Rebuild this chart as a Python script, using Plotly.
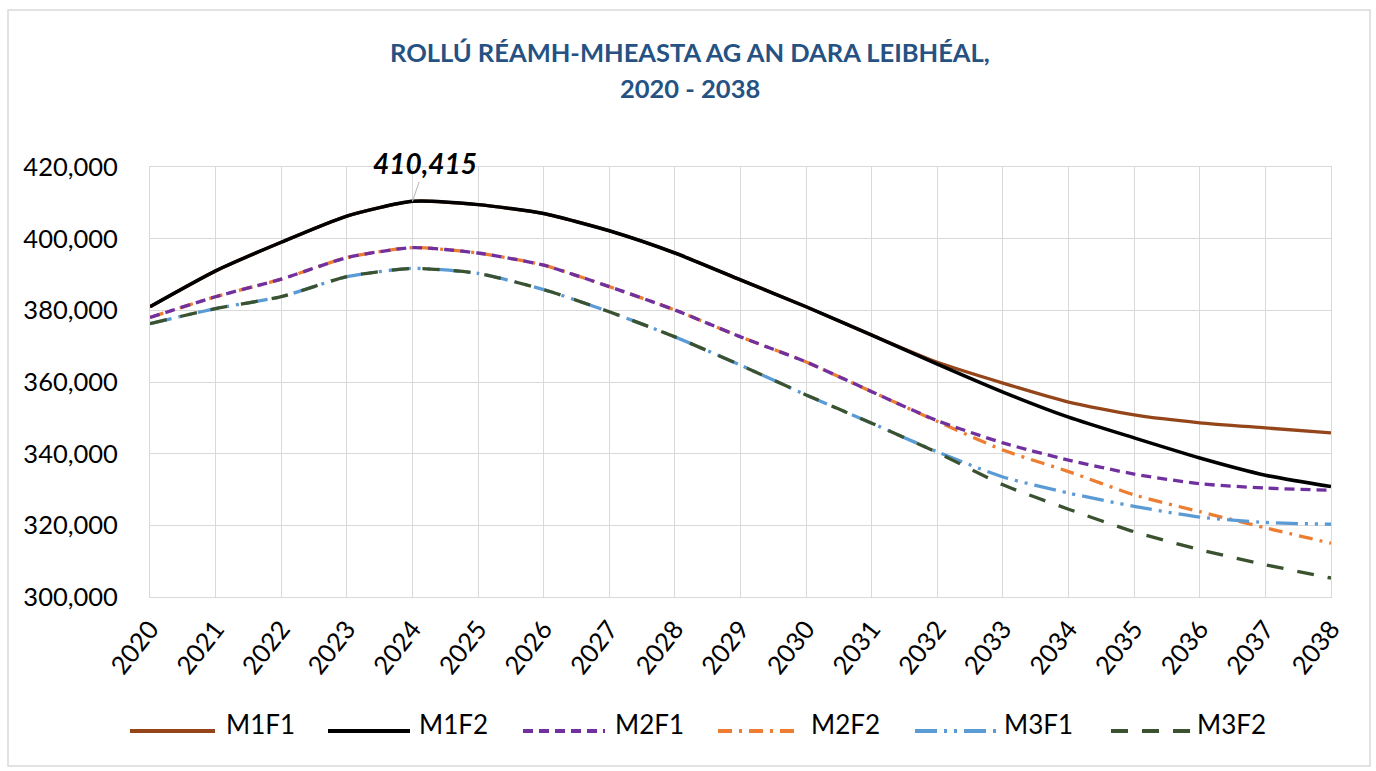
import plotly.graph_objects as go

years = list(range(2020, 2039))
m1f1 = [381000, 391000, 399000, 406300, 410415, 409500, 407000, 402200, 396000, 388500,
        381000, 373100, 365500, 359700, 354400, 350800, 348600, 347200, 345800]
m1f2 = [381000, 391000, 399000, 406300, 410415, 409500, 407000, 402200, 396000, 388500,
        381000, 373100, 365000, 357200, 350200, 344400, 338800, 334000, 330800]
m2f1 = [378000, 383800, 388700, 394700, 397500, 396000, 392600, 386600, 380100, 372600,
        365600, 357300, 349200, 343000, 338200, 334300, 331600, 330400, 329800]
m2f2 = [378000, 383800, 388700, 394700, 397500, 396000, 392600, 386600, 380100, 372600,
        365600, 357300, 349000, 341000, 335000, 328500, 323800, 319300, 315000]
m3f1 = [376300, 380500, 383800, 389400, 391700, 390300, 385800, 379600, 372600, 364700,
        356400, 348500, 340500, 333500, 329000, 325300, 322300, 320800, 320300]
m3f2 = [376300, 380500, 383800, 389400, 391700, 390300, 385800, 379600, 372600, 364700,
        356400, 348500, 340300, 331300, 324500, 318200, 313200, 309000, 305300]

names = ["M1F1", "M1F2", "M2F1", "M2F2", "M3F1", "M3F2"]
series = [m1f1, m1f2, m2f1, m2f2, m3f1, m3f2]
colors = ["#94461A", "#000000", "#7030A0", "#ED7D31", "#5B9BD5", "#3B5230"]
dashes = ["solid", "solid", "10px,6px", "14px,7px,3px,7px", "22px,7px,3px,7px,3px,7px", "17px,14px"]
widths = [3.3, 3.5, 3.3, 3.3, 3.3, 3.3]

peak_year = 2024
peak_value = 410415
title_l1 = "ROLLÚ RÉAMH-MHEASTA AG AN DARA LEIBHÉAL,"
title_l2 = "2020 - 2038"

W, H = 1376, 771
L, R, T, B = 150, 45, 167, 174
pw, ph = W - L - R, H - T - B

def px2x(px):
    return (px - L) / pw

def py2y(py):
    return (H - B - py) / ph

FONT = "Lato"
fig = go.Figure()
order = [0, 1, 3, 2, 4, 5]
for i in order:
    fig.add_trace(go.Scatter(
        x=years, y=series[i], name=names[i], mode="lines",
        line=dict(color=colors[i], width=widths[i], dash=dashes[i], shape="spline", smoothing=0.6),
        showlegend=False,
    ))

shapes = []
annotations = []
# outer border
shapes.append(dict(type="rect", xref="paper", yref="paper",
                   x0=px2x(8), x1=px2x(1370), y0=py2y(766), y1=py2y(10),
                   line=dict(color="#D9D9D9", width=1.5), fillcolor="rgba(0,0,0,0)", layer="below"))

# manual legend
leg_line_x = [(130, 215), (328, 410), (523, 605), (718, 800), (915, 997), (1111, 1193)]
leg_text_x = [224, 417, 613, 809, 1002, 1195]
for i in range(6):
    x0, x1 = leg_line_x[i]
    shapes.append(dict(type="line", xref="paper", yref="paper",
                       x0=px2x(x0), x1=px2x(x1), y0=py2y(731), y1=py2y(731),
                       line=dict(color=colors[i], width=4, dash=dashes[i])))
    annotations.append(dict(xref="paper", yref="paper", x=px2x(leg_text_x[i]), y=py2y(724),
                            text=names[i], showarrow=False, xanchor="left", yanchor="middle",
                            font=dict(family=FONT, size=26, color="#000000")))

# title
annotations.append(dict(xref="paper", yref="paper", x=px2x(690), y=py2y(52), text="<b>" + title_l1 + "</b>",
                        showarrow=False, xanchor="center", yanchor="middle",
                        font=dict(family=FONT, size=25.5, color="#255283")))
annotations.append(dict(xref="paper", yref="paper", x=px2x(690), y=py2y(88), text="<b>" + title_l2 + "</b>",
                        showarrow=False, xanchor="center", yanchor="middle",
                        font=dict(family=FONT, size=25.5, color="#255283")))

# peak label
annotations.append(dict(x=peak_year, y=peak_value, xref="x", yref="y",
                        text="<b><i>" + f"{peak_value:,}" + "</i></b>",
                        showarrow=True, arrowhead=0, arrowwidth=1.2, arrowcolor="#BFBFBF",
                        ax=13, ay=-38, font=dict(family=FONT, size=28, color="#000000")))

fig.update_layout(
    width=W, height=H,
    margin=dict(l=L, r=R, t=T, b=B),
    paper_bgcolor="white", plot_bgcolor="white",
    shapes=shapes, annotations=annotations,
    showlegend=False,
    font=dict(family=FONT, color="#000000"),
)
fig.update_xaxes(
    range=[2020, 2038], tickmode="array", tickvals=years, ticktext=[str(y) for y in years],
    tickangle=-52, tickfont=dict(family=FONT, size=25.5, color="#000000"),
    showgrid=True, gridcolor="#D9D9D9", gridwidth=1,
    showline=True, linecolor="#D9D9D9", mirror=True, zeroline=False,
    ticks="", ticklabelstandoff=6,
)
fig.update_yaxes(
    range=[300000, 420000], tickmode="linear", tick0=300000, dtick=20000,
    tickformat=",.0f", tickfont=dict(family=FONT, size=25.5, color="#000000"),
    showgrid=True, gridcolor="#D9D9D9", gridwidth=1,
    showline=True, linecolor="#D9D9D9", mirror=True, zeroline=False,
    ticks="", ticklabelstandoff=26,
)

fig.write_html("out.html", config={"displayModeBar": False},
               post_script="document.body.style.margin='0';document.body.style.overflow='hidden';")
